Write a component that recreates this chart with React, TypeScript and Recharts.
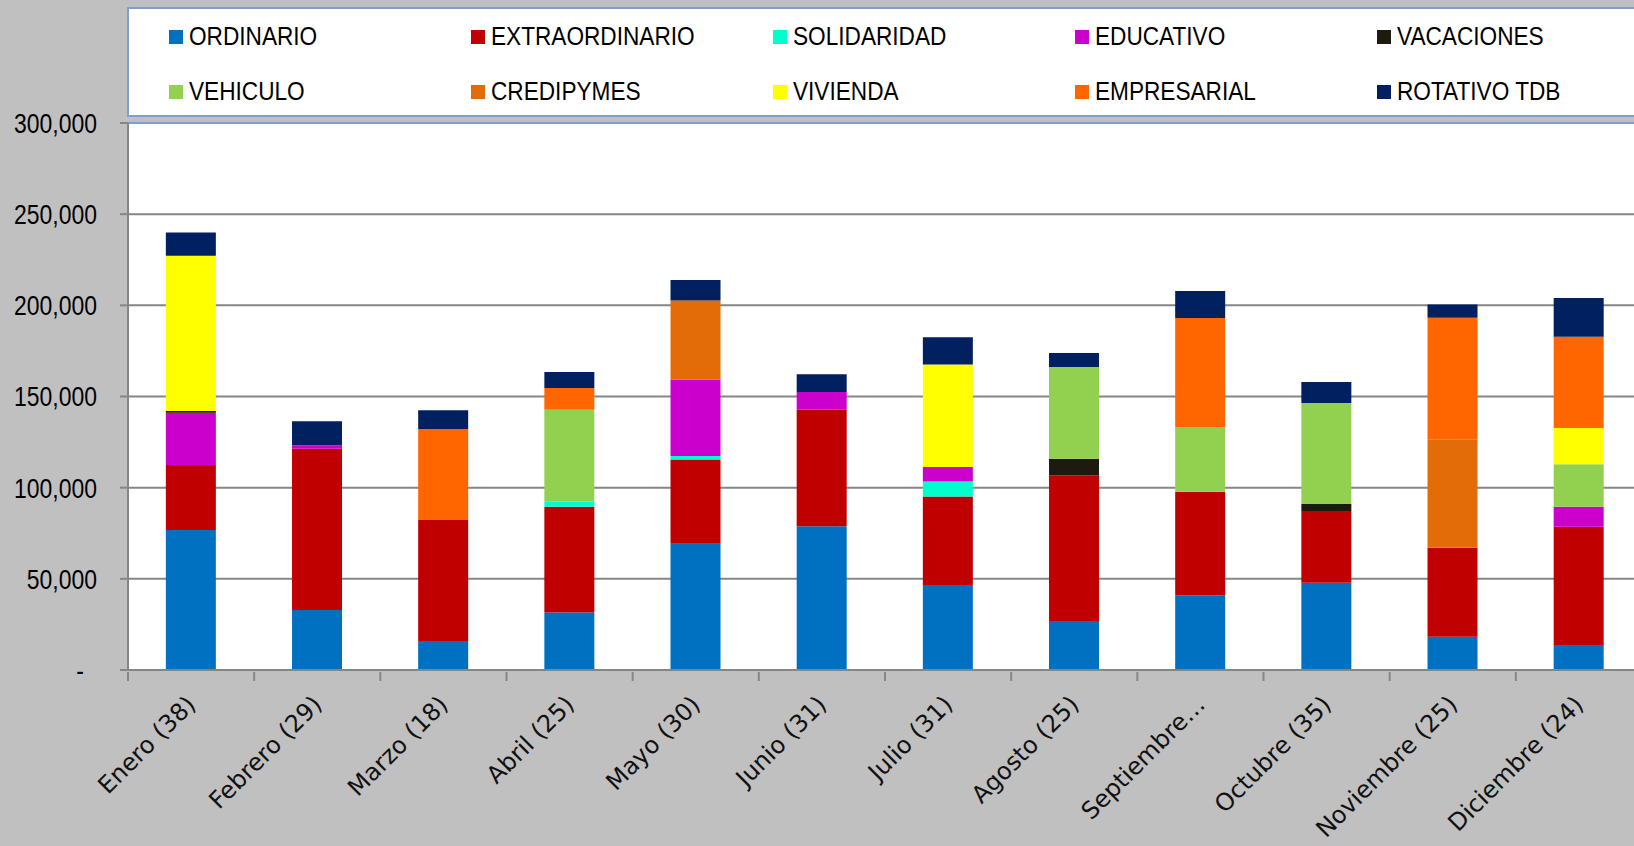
import { BarChart, Bar, XAxis, YAxis, CartesianGrid, ReferenceLine } from "recharts";

const MONTHS = [
  "Enero (38)", "Febrero (29)", "Marzo (18)", "Abril (25)", "Mayo (30)", "Junio (31)",
  "Julio (31)", "Agosto (25)", "Septiembre…", "Octubre (35)", "Noviembre (25)", "Diciembre (24)",
];

const ORDINARIO = [76800, 32900, 15900, 31600, 69300, 78800, 46600, 26900, 41000, 47900, 18300, 13700];
const EXTRAORDINARIO = [35600, 88500, 66400, 58000, 46100, 64000, 48600, 79900, 56800, 39300, 48800, 64900];
const SOLIDARIDAD = [0, 0, 0, 2900, 2000, 0, 8200, 0, 0, 0, 0, 0];
const EDUCATIVO = [28700, 1800, 0, 0, 41900, 9700, 8000, 0, 0, 0, 0, 11000];
const VACACIONES = [900, 0, 0, 0, 0, 0, 0, 9100, 0, 3800, 0, 0];
const VEHICULO = [0, 0, 0, 50300, 0, 0, 0, 50300, 35500, 55400, 0, 23200];
const CREDIPYMES = [0, 0, 0, 0, 43300, 0, 0, 0, 0, 0, 59200, 0];
const VIVIENDA = [85200, 0, 0, 0, 0, 0, 56100, 0, 0, 0, 0, 19900];
const EMPRESARIAL = [0, 0, 49900, 11900, 0, 0, 0, 0, 59800, 0, 66900, 50100];
const ROTATIVO = [12800, 13200, 10200, 8800, 11300, 9700, 15000, 7700, 14800, 11600, 7200, 21200];

const Y_TICKS = [0, 50000, 100000, 150000, 200000, 250000, 300000];

const SERIES = [
  { key: "ordinario", label: "ORDINARIO", color: "#0070c0", values: ORDINARIO },
  { key: "extraordinario", label: "EXTRAORDINARIO", color: "#c00000", values: EXTRAORDINARIO },
  { key: "solidaridad", label: "SOLIDARIDAD", color: "#00ffcc", values: SOLIDARIDAD },
  { key: "educativo", label: "EDUCATIVO", color: "#cc00cc", values: EDUCATIVO },
  { key: "vacaciones", label: "VACACIONES", color: "#1d1b10", values: VACACIONES },
  { key: "vehiculo", label: "VEHICULO", color: "#92d050", values: VEHICULO },
  { key: "credipymes", label: "CREDIPYMES", color: "#e36c09", values: CREDIPYMES },
  { key: "vivienda", label: "VIVIENDA", color: "#ffff00", values: VIVIENDA },
  { key: "empresarial", label: "EMPRESARIAL", color: "#ff6600", values: EMPRESARIAL },
  { key: "rotativo", label: "ROTATIVO TDB", color: "#002060", values: ROTATIVO },
];

const data = MONTHS.map((month, i) => {
  const row: Record<string, string | number> = { month };
  SERIES.forEach((s) => (row[s.key] = s.values[i]));
  return row;
});

const CHART_W = 1660;
const CHART_H = 846;
const MARGIN = { top: 123, right: 18, bottom: 0, left: 0 };
const Y_AXIS_W = 128;
const STEP = (CHART_W - MARGIN.left - MARGIN.right - Y_AXIS_W) / MONTHS.length;
const GRAY = "#868686";

function YTick({ x, y, payload }: any) {
  const zero = payload.value === 0;
  const label = zero ? "-" : payload.value.toLocaleString("en-US");
  return (
    <text
      transform={`translate(${x - (zero ? 13 : 0)} ${y}) scale(0.82 1)`}
      textAnchor="end"
      dominantBaseline="central"
      fontFamily="'Liberation Sans', Arial, sans-serif"
      fontSize={28}
      fill="#000"
    >
      {label}
    </text>
  );
}

function XTick({ x, y, payload }: any) {
  const bx = x - STEP / 2;
  const tx = x + 6;
  const ty = y + 34;
  return (
    <g>
      <line x1={bx} x2={bx} y1={y} y2={y + 9} stroke={GRAY} strokeWidth={2} />
      <text
        x={tx}
        y={ty}
        transform={`rotate(-45 ${tx} ${ty})`}
        textAnchor="end"
        fontFamily="'DejaVu Sans', sans-serif"
        fontSize={24}
        fill="#111"
      >
        {payload.value}
      </text>
    </g>
  );
}

function LegendBox() {
  return (
    <div
      style={{
        position: "absolute",
        left: 127,
        top: 7,
        width: 1600,
        height: 106,
        border: "2px solid #7f9fcf",
        background: "#fff",
        display: "grid",
        gridTemplateColumns: "repeat(5, 302px)",
        gridAutoRows: "55px",
        paddingLeft: 40,
        boxSizing: "content-box",
      }}
    >
      {SERIES.map((s) => (
        <div key={s.key} style={{ display: "flex", alignItems: "center" }}>
          <span style={{ width: 14, height: 14, background: s.color, flex: "none" }} />
          <span
            style={{
              marginLeft: 6,
              fontFamily: "'Liberation Sans', Arial, sans-serif",
              fontSize: 26,
              color: "#000",
              whiteSpace: "nowrap",
              transform: "scaleX(0.87)",
              transformOrigin: "left center",
            }}
          >
            {s.label}
          </span>
        </div>
      ))}
    </div>
  );
}

export default function App() {
  return (
    <div
      style={{
        position: "absolute",
        left: 0,
        top: 0,
        width: 1634,
        height: 846,
        overflow: "hidden",
        background: "#c0c0c0",
      }}
    >
      <div style={{ position: "absolute", left: 0, top: 0 }}>
        <BarChart width={CHART_W} height={CHART_H} data={data} margin={MARGIN} barCategoryGap="30%">
          <CartesianGrid vertical={false} stroke={GRAY} strokeWidth={2} fill="#fff" />
          <XAxis
            dataKey="month"
            height={176}
            interval={0}
            tickSize={0}
            tickLine={false}
            axisLine={{ stroke: GRAY, strokeWidth: 2 }}
            tick={<XTick />}
          />
          <YAxis
            width={Y_AXIS_W}
            domain={[0, 300000]}
            ticks={Y_TICKS}
            interval={0}
            tickSize={8}
            tickMargin={23}
            tickLine={{ stroke: GRAY, strokeWidth: 2 }}
            axisLine={{ stroke: GRAY, strokeWidth: 2 }}
            tick={<YTick />}
          />
          <ReferenceLine y={300000} stroke="#7f9fcf" strokeWidth={2} />
          {SERIES.map((s) => (
            <Bar
              key={s.key}
              dataKey={s.key}
              name={s.label}
              stackId="total"
              fill={s.color}
              isAnimationActive={false}
            />
          ))}
        </BarChart>
      </div>
      <LegendBox />
    </div>
  );
}
